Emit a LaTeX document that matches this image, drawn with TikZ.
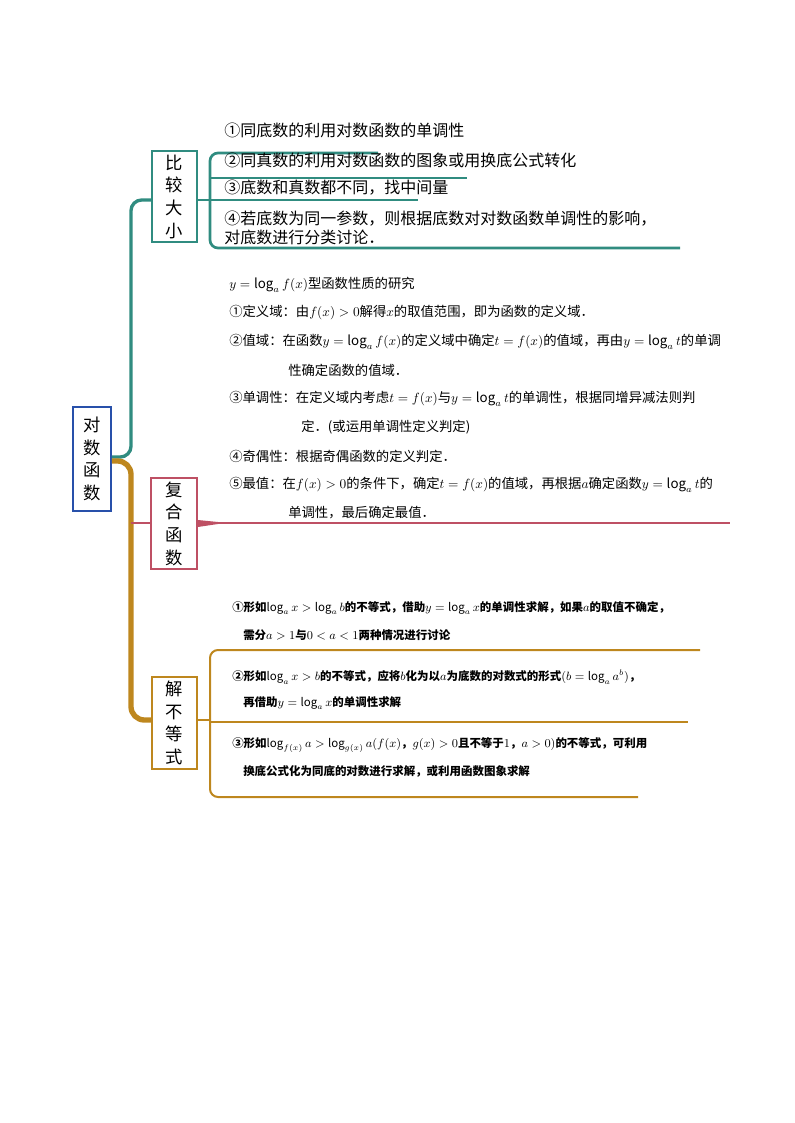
\documentclass[tikz,border=0pt]{standalone}
\usepackage{fontspec}
\setmainfont{Noto Sans CJK SC}
\begin{document}
\begin{tikzpicture}[x=0.75pt,y=-0.75pt,
  box/.style={draw,line width=1.2pt,fill=white,align=center,inner sep=0pt,font=\fontsize{13}{17}\selectfont},
  t1/.style={anchor=west,inner sep=0pt,font=\fontsize{12}{14}\selectfont},
  t2/.style={anchor=west,inner sep=0pt,font=\fontsize{10}{12}\selectfont},
  t3/.style={anchor=west,inner sep=0pt,font=\fontsize{8.6}{10}\selectfont\bfseries}]
\definecolor{teal1}{RGB}{48,140,128}
\definecolor{gold1}{RGB}{190,135,30}
\definecolor{pink1}{RGB}{190,80,100}
\definecolor{blue1}{RGB}{40,80,170}
\useasboundingbox (0,0) rectangle (794,1123);
% boxes
\node[box,draw=blue1,minimum width=38*0.75pt,minimum height=104*0.75pt] (root) at (92,459) {对\\数\\函\\数};
\node[box,draw=teal1,minimum width=45*0.75pt,minimum height=91*0.75pt] (bj) at (174.5,196.5) {比\\较\\大\\小};
\node[box,draw=pink1,minimum width=46*0.75pt,minimum height=91*0.75pt] (fh) at (174,523.5) {复\\合\\函\\数};
\node[box,draw=gold1,minimum width=45*0.75pt,minimum height=92*0.75pt] (jb) at (174.5,723) {解\\不\\等\\式};
% trunks
\draw[teal1,line width=2.5pt,rounded corners=8pt] (root.east|-0,457) -- (131,457) -- (131,200) -- (bj.west|-0,200);
\draw[gold1,line width=4pt,rounded corners=10pt] (root.east|-0,461) -- (131,461) -- (131,720) -- (jb.west|-0,720);
\draw[pink1,line width=1.2pt] (131,523) -- (fh.west|-0,523);
\draw[pink1,line width=1.2pt] (fh.east|-0,523) -- (730,523);
\fill[pink1] (fh.east|-0,520) -- (218,522) -- (218,524) -- (fh.east|-0,527) -- cycle;
% teal bracket
\draw[teal1,line width=2pt] (bj.east|-0,200) -- (210,200);
\draw[teal1,line width=2pt,rounded corners=6pt] (378,153) -- (210,153) -- (210,248) -- (680,248);
\draw[teal1,line width=2pt] (210,178) -- (467,178);
\draw[teal1,line width=2pt] (210,200) -- (418,200);
\node[t1] (a1) at (224,130) {①同底数的利用对数函数的单调性};
\node[t1] (a2) at (224,160) {②同真数的利用对数函数的图象或用换底公式转化};
\node[t1] (a3) at (224,188) {③底数和真数都不同，找中间量};
\node[t1,align=left] (a4) at (224,228) {④若底数为同一参数，则根据底数对对数函数单调性的影响，\\对底数进行分类讨论．};
% composite text
\node[t2] (b0) at (229,285) {$y=\log_a f(x)$型函数性质的研究};
\node[t2] (b1) at (229,313) {①定义域：由$f(x)>0$解得$x$的取值范围，即为函数的定义域．};
\node[t2] (b2) at (229,342) {②值域：在函数$y=\log_a f(x)$的定义域中确定$t=f(x)$的值域，再由$y=\log_a t$的单调};
\node[t2] (b2b) at (288,370) {性确定函数的值域．};
\node[t2] (b3) at (229,399) {③单调性：在定义域内考虑$t=f(x)$与$y=\log_a t$的单调性，根据同增异减法则判};
\node[t2] (b3b) at (301,427) {定．(或运用单调性定义判定)};
\node[t2] (b4) at (229,456) {④奇偶性：根据奇偶函数的定义判定．};
\node[t2] (b5) at (229,485) {⑤最值：在$f(x)>0$的条件下，确定$t=f(x)$的值域，再根据$a$确定函数$y=\log_a t$的};
\node[t2] (b5b) at (288,513) {单调性，最后确定最值．};
% inequality bracket
\draw[gold1,line width=1.5pt] (jb.east|-0,720) -- (210,720);
\draw[gold1,line width=1.5pt,rounded corners=6pt] (700,650) -- (210,650) -- (210,797) -- (638,797);
\draw[gold1,line width=1.5pt] (210,722) -- (688,722);
\node[t3] (c1) at (232,608) {①形如$\log_a x>\log_a b$的不等式，借助$y=\log_a x$的单调性求解，如果$a$的取值不确定，};
\node[t3] (c1b) at (243,635) {需分$a>1$与$0<a<1$两种情况进行讨论};
\node[t3] (c2) at (232,677) {②形如$\log_a x>b$的不等式，应将$b$化为以$a$为底数的对数式的形式$(b=\log_a a^b)$，};
\node[t3] (c2b) at (243,703) {再借助$y=\log_a x$的单调性求解};
\node[t3] (c3) at (232,745) {③形如$\log_{f(x)}a>\log_{g(x)}a(f(x)$，$g(x)>0$且不等于$1$，$a>0)$的不等式，可利用};
\node[t3] (c3b) at (243,771) {换底公式化为同底的对数进行求解，或利用函数图象求解};
\end{tikzpicture}
\end{document}
